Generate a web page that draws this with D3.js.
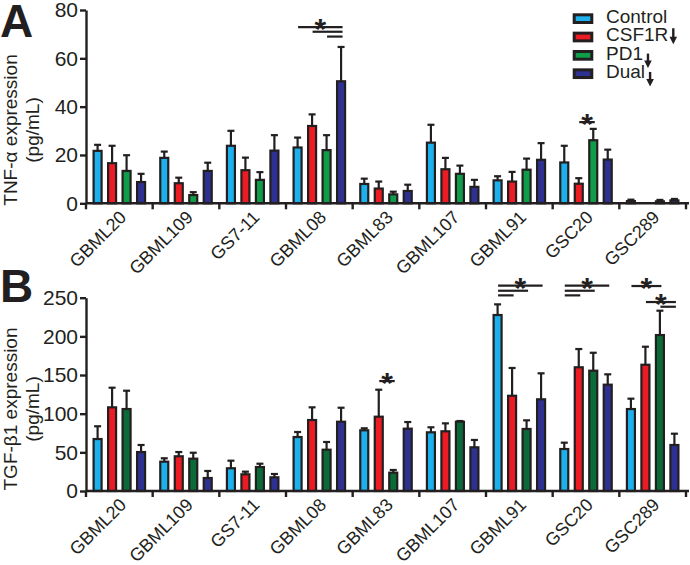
<!DOCTYPE html>
<html><head><meta charset="utf-8">
<script src="https://cdn.jsdelivr.net/npm/d3@7/dist/d3.min.js"></script>
<style>
body{margin:0;background:#fff}
svg{display:block;font-family:"Liberation Sans",Arial,Helvetica,sans-serif}
</style>
</head><body><svg id="c" width="690" height="565"></svg>
<script>
// ---------- DATA ----------
const cellLines = ["GBML20","GBML109","GS7-11","GBML08","GBML83","GBML107","GBML91","GSC20","GSC289"];
const treatments = ["Control","CSF1R","PD1","Dual"];
const legendLabels = ["Control","CSF1R","PD1","Dual"];
const legendArrows = [false,true,true,true];

// Panel A: TNF-α (pg/mL) — means and upper error
const tnfControl = [21.7,18.8,23.8,23.1,8.0,25.1,9.5,16.9,0.9];
const tnfControlErr = [2.5,2.6,6.2,4.1,2.2,7.4,1.7,6.9,0.6];
const tnfCSF1R = [16.6,8.3,13.7,32.0,6.1,14.1,9.0,8.1,0.0];
const tnfCSF1RErr = [7.2,2.3,5.2,4.8,2.9,4.7,4.0,2.3,0.0];
const tnfPD1 = [13.4,3.4,9.7,22.0,3.7,12.2,13.9,26.1,0.8];
const tnfPD1Err = [6.5,1.2,3.2,6.2,1.1,3.4,4.6,4.7,0.6];
const tnfDual = [8.8,13.4,21.8,50.5,5.1,6.8,18.0,18.1,1.2];
const tnfDualErr = [3.4,3.4,6.4,14.2,2.6,2.9,6.9,4.1,0.6];
const tnfTicks = [0,20,40,60,80];

// Panel B: TGF-β1 (pg/mL)
const tgfControl = [67.2,37.9,29.4,69.8,78.5,75.9,227.6,54.3,106.0];
const tgfControlErr = [16.5,4.4,9.8,6.5,2.6,6.5,13.8,8.2,13.4];
const tgfCSF1R = [108.2,44.9,21.6,91.8,96.1,77.2,123.2,160.0,163.3];
const tgfCSF1RErr = [25.4,5.5,3.4,16.4,34.9,10.3,35.9,23.6,23.3];
const tgfPD1 = [106.0,41.8,31.0,53.4,23.7,89.6,80.2,155.6,201.7];
const tgfPD1Err = [23.7,7.7,4.3,10.0,3.5,0.9,11.2,23.2,31.5];
const tgfDual = [50.4,16.8,17.7,89.6,80.6,56.5,118.6,137.5,59.5];
const tgfDualErr = [9.1,9.1,4.3,18.1,8.6,9.5,33.6,13.4,14.6];
const tgfTicks = [0,50,100,150,200,250];

// significance brackets: [cell line, from, to, y-value, star?]
const sigA = [
  ["GBML08","Control","Dual",72.9,true],
  ["GBML08","CSF1R","Dual",71.0,false],
  ["GBML08","PD1","Dual",69.0,false],
  ["GSC20","CSF1R","PD1",33.6,true]
];
const sigB = [
  ["GBML83","CSF1R","PD1",142.2,true],
  ["GBML91","Control","Dual",265.5,true],
  ["GBML91","Control","PD1",259.0,false],
  ["GBML91","Control","CSF1R",253.0,false],
  ["GSC20","Control","Dual",265.5,true],
  ["GSC20","Control","PD1",259.0,false],
  ["GSC20","Control","CSF1R",253.0,false],
  ["GSC289","Control","PD1",265.1,true],
  ["GSC289","CSF1R","Dual",244.4,true],
  ["GSC289","PD1","Dual",238.3,false]
];

// ---------- DRAW ----------
const svg = d3.select("#c");
const INK = "#231f20";
const colA = {Control:"#1cb1ec", CSF1R:"#ed1c24", PD1:"#0f9d4a", Dual:"#2e3192"};
const colB = {Control:"#1cb1ec", CSF1R:"#ed1c24", PD1:"#0b6b38", Dual:"#2e3192"};

const x0 = d3.scaleBand().domain(cellLines).range([86, 686]).padding(0);
const x1 = d3.scaleBand().domain(treatments).range([0, x0.bandwidth()]).paddingInner(0.448).paddingOuter(0.524);

function buildRows(means, errs) {
  return cellLines.flatMap((c, i) => treatments.map((t, k) => ({c, t, v: means[k][i], e: errs[k][i]})));
}

function panel(opts) {
  const {rows, yMax, top, bottom, ticks, colors, title1, title2, titleY, letter, letterY, sig} = opts;
  const y = d3.scaleLinear().domain([0, yMax]).range([bottom, top]);
  const g = svg.append("g");

  // bars
  g.append("g").selectAll("rect").data(rows).join("rect")
    .attr("x", d => x0(d.c) + x1(d.t))
    .attr("width", x1.bandwidth())
    .attr("y", d => y(d.v))
    .attr("height", d => Math.max(0, y(0) - y(d.v)))
    .attr("fill", d => colors[d.t])
    .attr("stroke", INK).attr("stroke-width", 2.2);

  // error bars (upper only)
  const eb = rows.filter(d => d.e > 0);
  const cxr = d => x0(d.c) + x1(d.t) + x1.bandwidth()/2;
  g.append("g").selectAll("line").data(eb).join("line")
    .attr("x1", cxr).attr("x2", cxr)
    .attr("y1", d => y(d.v)).attr("y2", d => y(d.v + d.e))
    .attr("stroke", INK).attr("stroke-width", 2.2);
  g.append("g").selectAll("line").data(eb).join("line")
    .attr("x1", d => cxr(d) - 3.5).attr("x2", d => cxr(d) + 3.5)
    .attr("y1", d => y(d.v + d.e)).attr("y2", d => y(d.v + d.e))
    .attr("stroke", INK).attr("stroke-width", 2.2);

  // y axis
  const ya = g.append("g").attr("transform", "translate(86,0)")
    .call(d3.axisLeft(y).tickValues(ticks).tickSize(6).tickPadding(2).tickSizeOuter(0));
  ya.select(".domain").attr("stroke", INK).attr("stroke-width", 2.4);
  ya.selectAll(".tick line").attr("stroke", INK).attr("stroke-width", 2.4);
  ya.selectAll(".tick text").attr("fill", INK).attr("font-size", 21).attr("font-family", null);

  // x axis with group separators
  const bounds = cellLines.map(c => x0(c)).concat([x0.range()[1]]);
  g.append("line").attr("x1", 86).attr("x2", 689).attr("y1", y(0)).attr("y2", y(0))
    .attr("stroke", INK).attr("stroke-width", 2.4);
  g.append("g").selectAll("line").data(bounds).join("line")
    .attr("x1", d => d).attr("x2", d => d).attr("y1", y(0)).attr("y2", y(0) + 6)
    .attr("stroke", INK).attr("stroke-width", 2.4);
  g.append("g").selectAll("text").data(cellLines).join("text")
    .attr("transform", d => `translate(${x0(d) + x0.bandwidth()/2 + 8},${y(0) + 15}) rotate(-45)`)
    .attr("text-anchor", "end").attr("font-size", 18).attr("fill", INK)
    .text(d => d);

  // y title
  g.append("text").attr("transform", `translate(17,${titleY}) rotate(-90)`)
    .attr("text-anchor", "middle").attr("font-size", 19).attr("fill", INK).text(title1);
  g.append("text").attr("transform", `translate(39,${titleY}) rotate(-90)`)
    .attr("text-anchor", "middle").attr("font-size", 19).attr("fill", INK).text(title2);

  // panel letter
  g.append("text").attr("x", 0).attr("y", letterY).attr("font-size", 46).attr("font-weight", "bold")
    .attr("fill", INK).text(letter);

  // significance brackets
  const cx = (c, t) => x0(c) + x1(t) + x1.bandwidth()/2;
  sig.forEach(([c, f, t, v, star]) => {
    const xa = cx(c, f) + 0.5, xb = cx(c, t) + 1.5;
    g.append("line").attr("x1", xa).attr("x2", xb).attr("y1", y(v)).attr("y2", y(v))
      .attr("stroke", INK).attr("stroke-width", 2.2);
    if (star) g.append("text").attr("x", (xa + xb)/2).attr("y", y(v) + 12)
      .attr("text-anchor", "middle").attr("font-size", 30).attr("font-weight", "bold")
      .attr("fill", INK).text("*");
  });
}

panel({
  rows: buildRows([tnfControl, tnfCSF1R, tnfPD1, tnfDual], [tnfControlErr, tnfCSF1RErr, tnfPD1Err, tnfDualErr]),
  yMax: 80, top: 10, bottom: 203.3, ticks: tnfTicks, colors: colA,
  title1: "TNF-α expression", title2: "(pg/mL)", titleY: 130, letter: "A", letterY: 37, sig: sigA
});
panel({
  rows: buildRows([tgfControl, tgfCSF1R, tgfPD1, tgfDual], [tgfControlErr, tgfCSF1RErr, tgfPD1Err, tgfDualErr]),
  yMax: 250, top: 297.7, bottom: 491, ticks: tgfTicks, colors: colB,
  title1: "TGF-β1 expression", title2: "(pg/mL)", titleY: 409, letter: "B", letterY: 302, sig: sigB
});

// legend
const lg = svg.append("g");
const arrowOff = [null, [-13, 3], [-6, 8.5], [-6, 8.5]];
legendLabels.forEach((lab, i) => {
  const top = 13.3 + i * 18.35;
  lg.append("rect").attr("x", 574.2).attr("y", top + 1.5).attr("width", 17.6).attr("height", 7.7)
    .attr("fill", colA[treatments[i]]).attr("stroke", INK).attr("stroke-width", 3);
  const t = lg.append("text").attr("x", 606).attr("y", top + 9.6).attr("font-size", 19)
    .attr("fill", INK).text(lab);
  if (legendArrows[i]) {
    const ax = 606 + t.node().getComputedTextLength() + 5;
    const y1 = top + 9.6 + arrowOff[i][0], y2 = top + 9.6 + arrowOff[i][1];
    lg.append("line").attr("x1", ax).attr("x2", ax).attr("y1", y1).attr("y2", y2 - 5)
      .attr("stroke", INK).attr("stroke-width", 2.4);
    lg.append("path").attr("d", `M${ax-3.8},${y2-7.5} L${ax+3.8},${y2-7.5} L${ax},${y2} Z`).attr("fill", INK);
  }
});
</script>
</body></html>
